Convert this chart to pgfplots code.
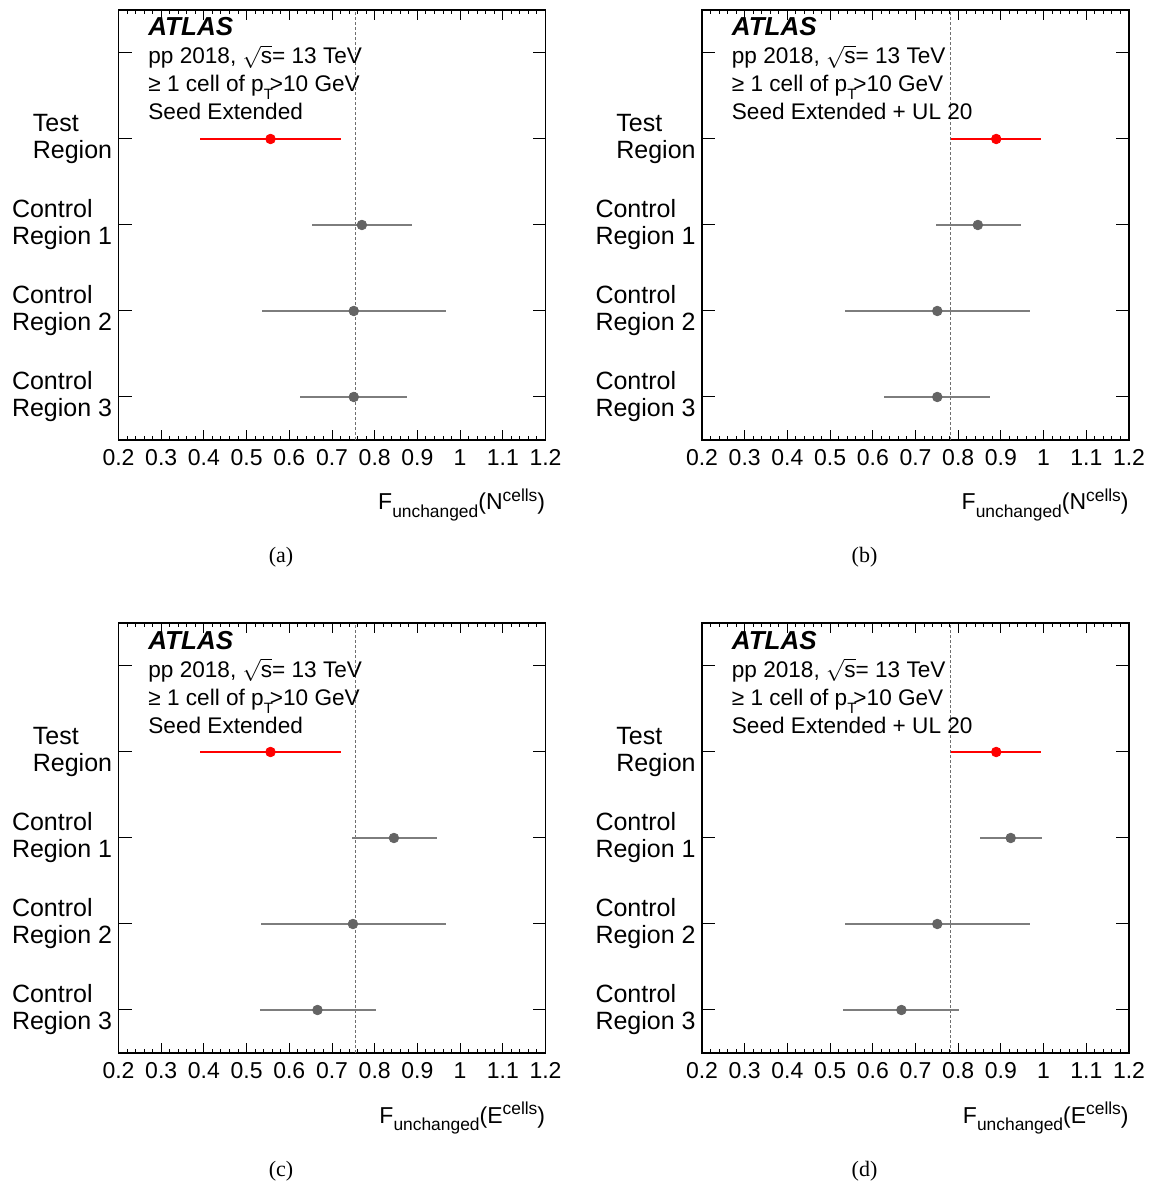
\documentclass[border=0pt]{standalone}
\usepackage{fontspec}
\setmainfont{Liberation Sans}
\newfontfamily\capfont{Liberation Serif}
\usepackage{pgfplots}
\usepackage{pgfplotstable}
\pgfplotsset{compat=1.18}

\definecolor{ptgrey}{RGB}{100,100,100}
\definecolor{bargrey}{RGB}{125,125,125}
\definecolor{dashgrey}{RGB}{110,110,110}

% y: region slot, x: central value, lo/hi: ends of the bar
\pgfplotstableread{
y   x     lo    hi
3.5 0.556 0.392 0.721
2.5 0.770 0.654 0.887
1.5 0.751 0.536 0.968
0.5 0.751 0.626 0.876
}\tabA
\pgfplotstableread{
y   x     lo    hi
3.5 0.889 0.783 0.994
2.5 0.846 0.747 0.947
1.5 0.751 0.535 0.967
0.5 0.751 0.626 0.875
}\tabB
\pgfplotstableread{
y   x     lo    hi
3.5 0.556 0.392 0.721
2.5 0.845 0.747 0.945
1.5 0.749 0.534 0.966
0.5 0.666 0.531 0.802
}\tabC
\pgfplotstableread{
y   x     lo    hi
3.5 0.889 0.783 0.994
2.5 0.923 0.851 0.996
1.5 0.751 0.535 0.967
0.5 0.667 0.531 0.803
}\tabD

\pgfplotsset{
  frf/.style={
    scale only axis, width=213.5pt, height=215pt, anchor=south west,
    xmin=0.2, xmax=1.2, ymin=0, ymax=5,
    xtick={0.2,0.3,0.4,0.5,0.6,0.7,0.8,0.9,1,1.1,1.2},
    minor x tick num=4,
    ytick={0.5,1.5,2.5,3.5,4.5},
    yticklabels={{Control\\Region 3},{Control\\Region 2},{Control\\Region 1},{Test\\Region},{}},
    tick align=inside, tick pos=both, ticklabel pos=left,
    axis line style={line width=0.6pt},
    every tick/.style={black, line width=0.5pt},
    major tick length=5pt, minor tick length=2.2pt,
    ytick style={/pgfplots/major tick length=6.5pt},
    x tick label style={font=\fontsize{11.5}{12}\selectfont, inner sep=0pt, yshift=-4.5pt},
    y tick label style={font=\fontsize{12.5}{13.5}\selectfont, align=left, inner sep=0pt, xshift=-3pt},
    /pgf/number format/assume math mode=true,
    clip=false,
  },
  ebar/.style={only marks, mark=*, mark size=2.4pt,
    error bars/.cd, x dir=both, x explicit, error mark=none},
}

\newcommand{\panel}[7]{%
  \begin{axis}[frf, at={(#1,#2)}]
    \addplot[dashgrey, line width=0.5pt, dash pattern=on 1.5pt off 1pt] coordinates {(#4,0) (#4,5)};
    \addplot[red, ebar, error bar style={red, line width=0.6pt}]
      table[x=x, y=y, x error minus expr=\thisrow{x}-\thisrow{lo}, x error plus expr=\thisrow{hi}-\thisrow{x},
            skip coords between index={1}{4}] {#3};
    \addplot[ptgrey, ebar, error bar style={bargrey, line width=0.6pt}]
      table[x=x, y=y, x error minus expr=\thisrow{x}-\thisrow{lo}, x error plus expr=\thisrow{hi}-\thisrow{x},
            skip coords between index={0}{1}] {#3};
    \node[anchor=base west, inner sep=0pt, font=\fontsize{13}{13}\selectfont\bfseries\itshape]
      at ([xshift=14.75pt,yshift=-13pt]rel axis cs:0,1) {ATLAS};
    \node[anchor=base west, inner sep=0pt, font=\fontsize{11.3}{12}\selectfont]
      at ([xshift=14.75pt,yshift=-27pt]rel axis cs:0,1) {pp 2018, $\sqrt{\mbox{s}}$= 13 TeV};
    \node[anchor=base west, inner sep=0pt, font=\fontsize{11.3}{12}\selectfont]
      at ([xshift=14.75pt,yshift=-41pt]rel axis cs:0,1) {≥ 1 cell of p\raisebox{-4pt}{\fontsize{7.5}{7.5}\selectfont T}\kern-1.5pt>10 GeV};
    \node[anchor=base west, inner sep=0pt, font=\fontsize{11.3}{12}\selectfont]
      at ([xshift=14.75pt,yshift=-55pt]rel axis cs:0,1) {#5};
    \node[anchor=base east, inner sep=0pt, font=\fontsize{11.5}{12}\selectfont]
      at ([yshift=-35pt]rel axis cs:1,0)
      {F\raisebox{-3.8pt}{\fontsize{8.7}{8.7}\selectfont unchanged}(#6\raisebox{4.25pt}{\fontsize{8.7}{8.7}\selectfont cells})};
    \node[anchor=base, inner sep=0pt, font=\capfont\fontsize{11}{11}\selectfont]
      at ([xshift=81.25pt,yshift=-61.5pt]rel axis cs:0,0) {#7};
  \end{axis}}

\begin{document}
\begin{tikzpicture}
  \useasboundingbox (0,0) rectangle (575.5pt,591pt);
  \panel{59.25pt}{371pt}{\tabA}{0.755}{Seed Extended}{N}{(a)}
  \panel{351pt}{371pt}{\tabB}{0.781}{Seed Extended + UL 20}{N}{(b)}
  \panel{59.25pt}{64.5pt}{\tabC}{0.755}{Seed Extended}{E}{(c)}
  \panel{351pt}{64.5pt}{\tabD}{0.781}{Seed Extended + UL 20}{E}{(d)}
\end{tikzpicture}
\end{document}
